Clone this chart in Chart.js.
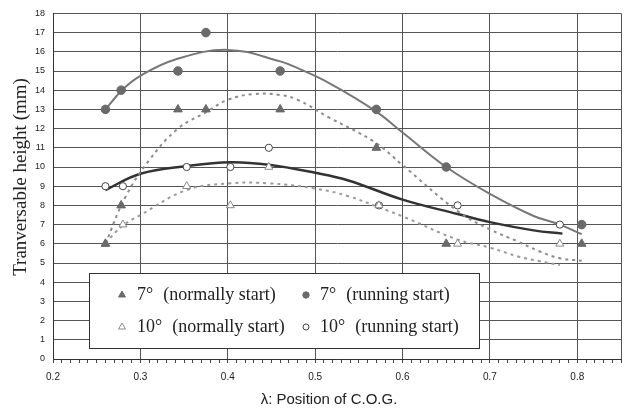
<!DOCTYPE html>
<html>
<head>
<meta charset="utf-8">
<script src="https://cdn.jsdelivr.net/npm/chart.js@4.4.0/dist/chart.umd.min.js"></script>
<style>
  html, body { margin: 0; padding: 0; background: #fff; }
  #wrap { width: 629px; height: 414px; }
</style>
</head>
<body>
<div id="wrap"><canvas id="chart" width="629" height="414"></canvas></div>
<script>
// measured points (λ, height in mm)
const x7 = [0.26, 0.278, 0.343, 0.375, 0.46, 0.57, 0.65, 0.805];
const normal7 = [6, 8, 13, 13, 13, 11, 6, 6];
const running7 = [13, 14, 15, 17, 15, 13, 10, 7];

const x10 = [0.26, 0.28, 0.353, 0.403, 0.447, 0.573, 0.663, 0.78];
const normal10 = [6, 7, 9, 8, 10, 8, 6, 6];
const running10 = [9, 9, 10, 10, 11, 8, 8, 7];

// trend curves
const trendRun7X = [0.26, 0.28, 0.30, 0.34, 0.40, 0.46, 0.48, 0.515, 0.568, 0.60, 0.65, 0.70, 0.75, 0.78, 0.805];
const trendRun7Y = [13.0, 14.05, 14.75, 15.6, 16.1, 15.5, 15.15, 14.4, 12.95, 11.8, 10.0, 8.6, 7.45, 7.0, 6.5];

const trendNorm7X = [0.26, 0.283, 0.31, 0.343, 0.375, 0.40, 0.43, 0.46, 0.48, 0.515, 0.568, 0.60, 0.663, 0.70, 0.731, 0.757, 0.78, 0.805];
const trendNorm7Y = [6.0, 8.45, 10.35, 12.0, 12.85, 13.5, 13.8, 13.75, 13.5, 12.6, 11.3, 10.1, 7.7, 6.75, 6.14, 5.6, 5.25, 5.12];

const trendRun10X = [0.26, 0.30, 0.353, 0.403, 0.447, 0.50, 0.538, 0.60, 0.663, 0.70, 0.75, 0.783];
const trendRun10Y = [8.8, 9.65, 10.05, 10.25, 10.12, 9.7, 9.3, 8.3, 7.55, 7.13, 6.7, 6.53];

const trendNorm10X = [0.26, 0.28, 0.30, 0.353, 0.403, 0.447, 0.50, 0.538, 0.573, 0.60, 0.663, 0.70, 0.733, 0.756, 0.78];
const trendNorm10Y = [6.05, 6.95, 7.5, 8.8, 9.15, 9.15, 8.88, 8.48, 7.9, 7.43, 6.22, 5.8, 5.33, 5.1, 4.9];

const legendAngles = ['7°', '7°', '10°', '10°'];
const legendNotes = ['(normally start)', '(running start)', '(normally start)', '(running start)'];

const xTitle = 'λ: Position of C.O.G.';
const yTitle = 'Tranversable height (mm)';

const pts = (xs, ys) => xs.map((x, i) => ({ x: x, y: ys[i] }));

const isMajor = v => Math.abs(v * 10 - Math.round(v * 10)) < 1e-6 || Math.abs(v - 0.85) < 1e-6;

const markStyles = [
  { pointStyle: 'triangle', radius: 5, bg: '#6a6a6a', border: '#6a6a6a' },
  { pointStyle: 'circle', radius: 4.3, bg: '#6a6a6a', border: '#6a6a6a' },
  { pointStyle: 'triangle', radius: 4.6, bg: '#fff', border: '#8a8a8a' },
  { pointStyle: 'circle', radius: 3.6, bg: '#fff', border: '#444' }
];

const pointSet = (label, data, s) => ({
  type: 'scatter',
  label: label,
  data: data,
  pointStyle: s.pointStyle,
  pointRadius: s.radius,
  pointBackgroundColor: s.bg,
  pointBorderColor: s.border,
  pointBorderWidth: 1,
  order: 0
});

const trendSet = (data, color, width, dash) => ({
  type: 'line',
  data: data,
  borderColor: color,
  borderWidth: width,
  borderDash: dash,
  pointRadius: 0,
  tension: 0.4,
  fill: false,
  order: 1
});

// titles + the boxed legend inside the plot
const decorations = {
  id: 'decorations',
  afterDraw(chart) {
    const ctx = chart.ctx;
    ctx.save();
    ctx.fillStyle = '#222';
    ctx.textBaseline = 'middle';
    ctx.textAlign = 'center';
    ctx.font = '15px "Liberation Sans"';
    ctx.fillText(xTitle, 329, 400);
    ctx.save();
    ctx.translate(21, 177);
    ctx.rotate(-Math.PI / 2);
    ctx.font = '19px "Liberation Serif"';
    ctx.fillText(yTitle, 0, 0);
    ctx.restore();

    // legend box
    ctx.fillStyle = '#fff';
    ctx.fillRect(89.5, 273.5, 390, 75);
    ctx.strokeStyle = '#333';
    ctx.lineWidth = 1;
    ctx.strokeRect(89.5, 273.5, 390, 75);

    const cols = [{ mark: 122, text: 137 }, { mark: 306, text: 320 }];
    const rows = [295, 327];
    const legendMarks = [
      { pointStyle: 'triangle', radius: 4, bg: '#6a6a6a', border: '#6a6a6a' },
      { pointStyle: 'circle', radius: 3.2, bg: '#6a6a6a', border: '#6a6a6a' },
      { pointStyle: 'triangle', radius: 4, bg: '#fff', border: '#8a8a8a' },
      { pointStyle: 'circle', radius: 3, bg: '#fff', border: '#444' }
    ];
    ctx.textAlign = 'left';
    ctx.font = '18px "Liberation Serif"';
    legendAngles.forEach((angle, i) => {
      const c = cols[i % 2];
      const y = rows[Math.floor(i / 2)];
      const m = legendMarks[i];
      ctx.fillStyle = m.bg;
      ctx.strokeStyle = m.border;
      ctx.lineWidth = 1;
      Chart.helpers.drawPoint(ctx, { pointStyle: m.pointStyle, radius: m.radius, borderWidth: 1, rotation: 0 }, c.mark, y);
      ctx.fillStyle = '#222';
      ctx.fillText(angle, c.text, y);
      const w = ctx.measureText(angle).width;
      ctx.fillText(legendNotes[i], c.text + w + 10, y);
    });
    ctx.restore();
  }
};

const ctx = document.getElementById('chart').getContext('2d');
new Chart(ctx, {
  type: 'scatter',
  data: {
    datasets: [
      pointSet('7° (normally start)', pts(x7, normal7), markStyles[0]),
      pointSet('7° (running start)', pts(x7, running7), markStyles[1]),
      pointSet('10° (normally start)', pts(x10, normal10), markStyles[2]),
      pointSet('10° (running start)', pts(x10, running10), markStyles[3]),
      trendSet(pts(trendRun7X, trendRun7Y), '#777', 2, []),
      trendSet(pts(trendNorm7X, trendNorm7Y), '#8c8c8c', 2, [3, 4]),
      trendSet(pts(trendRun10X, trendRun10Y), '#333', 2.5, []),
      trendSet(pts(trendNorm10X, trendNorm10Y), '#9a9a9a', 2, [3, 4])
    ]
  },
  options: {
    responsive: false,
    animation: false,
    layout: { padding: { top: 10, right: 4, left: 0, bottom: 0 } },
    plugins: {
      legend: { display: false },
      tooltip: { enabled: false }
    },
    scales: {
      x: {
        type: 'linear',
        min: 0.2,
        max: 0.85,
        afterFit: s => { s.height = 55; },
        border: { color: '#333', width: 1 },
        grid: {
          color: c => isMajor(c.tick.value) ? '#555' : 'rgba(0,0,0,0)',
          tickColor: '#444',
          tickLength: 4
        },
        ticks: {
          stepSize: 0.01,
          autoSkip: false,
          maxRotation: 0,
          padding: 8,
          color: '#222',
          font: { family: 'Liberation Sans', size: 10 },
          callback: v => (isMajor(v) && v < 0.849) ? v.toFixed(1) : ''
        }
      },
      y: {
        min: 0,
        max: 18,
        afterFit: s => { s.width = 53; },
        border: { color: '#333', width: 1 },
        grid: { color: '#555', drawTicks: false },
        ticks: {
          stepSize: 1,
          padding: 8,
          color: '#222',
          font: { family: 'Liberation Sans', size: 9 }
        }
      }
    }
  },
  plugins: [decorations]
});
</script>
</body>
</html>
